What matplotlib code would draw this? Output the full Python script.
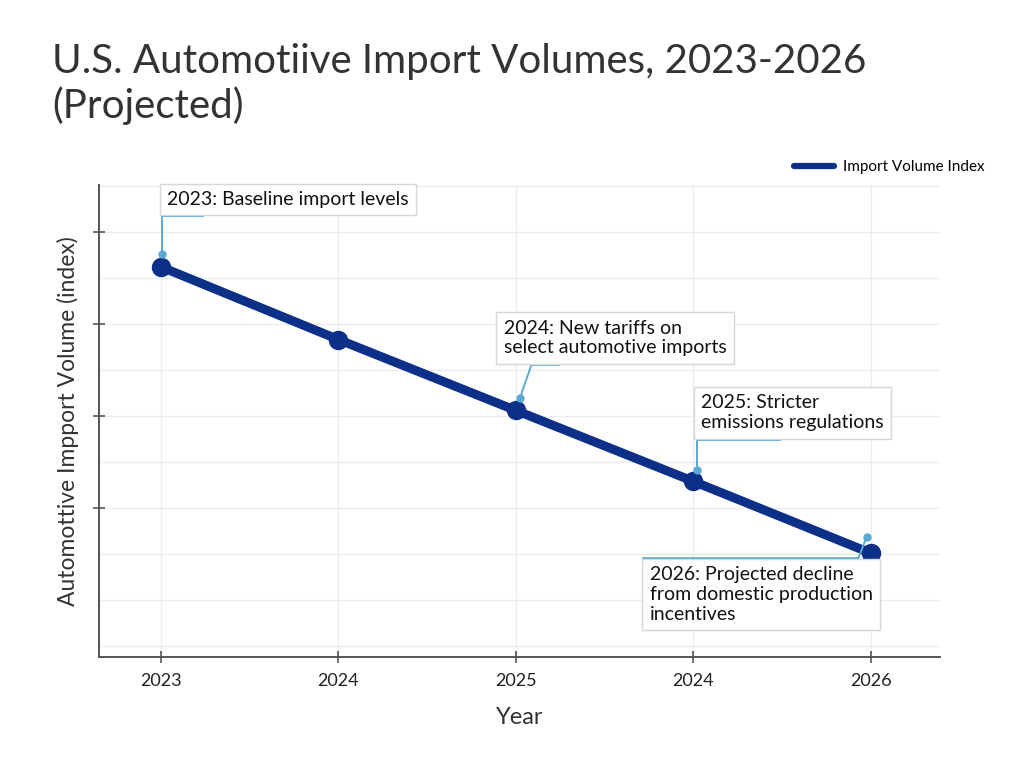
#!/usr/bin/env python3

import matplotlib
matplotlib.use('Agg')
import matplotlib.pyplot as plt
from matplotlib.transforms import offset_copy
from matplotlib.ticker import MultipleLocator

# data
years = [0, 1, 2, 3, 4]
year_labels = ['2023', '2024', '2025', '2024', '2026']
volume_index = [106.2, 98.3, 90.6, 82.9, 75.1]
y_ticks = [80, 90, 100, 110]

notes = [
    "2023: Baseline import levels",
    "2024: New tariffs on\nselect automotive imports",
    "2025: Stricter\nemissions regulations",
    "2026: Projected decline\nfrom domestic production\nincentives",
]
note_points = [0, 2, 3, 4]

LINE_COLOR = '#0c2f88'
NOTE_COLOR = '#5aaad4'


def main():
    plt.rcParams['font.family'] = ['Lato', 'DejaVu Sans']
    fig = plt.figure(figsize=(10.24, 7.68), dpi=100)
    ax = fig.add_axes([0.0967, 0.1445, 0.821, 0.6146])

    ax.plot(years, volume_index, color=LINE_COLOR, lw=6.5, marker='o',
            markersize=13, solid_capstyle='round', label='Import Volume Index',
            zorder=3)

    ax.set_xlim(-0.35, 4.39)
    ax.set_ylim(63.8, 115.1)
    ax.set_xticks(years)
    ax.set_xticklabels(year_labels)
    ax.set_yticks(y_ticks)
    ax.yaxis.set_minor_locator(MultipleLocator(5))
    ax.set_yticklabels([])
    ax.tick_params(axis='both', which='major', direction='inout', length=9,
                   width=1.2, color='#555555', labelsize=13, labelcolor='#222222',
                   pad=7)
    ax.tick_params(axis='both', which='minor', length=0)
    ax.grid(True, which='major', color='#ececec', lw=0.9)
    ax.grid(True, which='minor', axis='y', color='#ececec', lw=0.9)
    ax.set_axisbelow(True)
    for s in ['top', 'right']:
        ax.spines[s].set_visible(False)
    for s in ['left', 'bottom']:
        ax.spines[s].set_color('#555555')
        ax.spines[s].set_linewidth(1.4)

    ax.set_xlabel('Year', fontsize=17, color='#333333', labelpad=13)
    ax.set_ylabel('Automottive Impport Volume (index)', fontsize=16.5,
                  color='#333333', labelpad=3)

    fig.text(0.051, 0.944, 'U.S. Automotiive Import Volumes, 2023-2026\n(Projected)',
             fontsize=29, color='#333333', ha='left', va='top', linespacing=1.2)

    fig.legend(loc='center right', bbox_to_anchor=(0.975, 0.7826), frameon=False,
               fontsize=11, handlelength=2.6, handletextpad=0.6)
    leg = fig.legends[0]
    leg.get_lines()[0].set_linewidth(4.5)
    leg.get_lines()[0].set_marker('')

    # dot offsets (pixels) above each point, text offsets, connector shape
    # (relpos is relative to the bare text, so it reaches past the box padding)
    dot_off = [(1, 13), (4, 12), (4, 11), (-4, 16)]
    text_off = [(5, 46), (-16, 42), (4, 39), (-217, -29)]
    text_va = ['bottom', 'bottom', 'bottom', 'top']
    relpos = [(0.15, -0.47), (0.25, -0.23), (0.43, -0.23), (-0.03, 1.14)]
    conn = ['angle,angleA=0,angleB=90,rad=0',
            'angle,angleA=0,angleB=71,rad=0',
            'angle,angleA=0,angleB=90,rad=0',
            'angle,angleA=0,angleB=69,rad=0']

    for k, (txt, i) in enumerate(zip(notes, note_points)):
        tr = offset_copy(ax.transData, fig=fig, x=dot_off[k][0] * 0.72,
                         y=dot_off[k][1] * 0.72, units='points')
        ax.plot([years[i]], [volume_index[i]], 'o', color=NOTE_COLOR,
                markersize=5, transform=tr, zorder=4, clip_on=False)
        ax.annotate(txt, xy=(years[i], volume_index[i]), xycoords=tr,
                    xytext=text_off[k], textcoords='offset pixels',
                    ha='left', va=text_va[k], fontsize=14, color='#111111',
                    linespacing=1.2, zorder=5,
                    bbox=dict(boxstyle='square,pad=0.38', fc='white',
                              ec='#d6d6d6', lw=1.0),
                    arrowprops=dict(arrowstyle='-', color=NOTE_COLOR, lw=1.4,
                                    connectionstyle=conn[k], relpos=relpos[k],
                                    patchA=None, shrinkA=0, shrinkB=0))

    fig.savefig('out.png', dpi=100)


if __name__ == "__main__":
    main()
